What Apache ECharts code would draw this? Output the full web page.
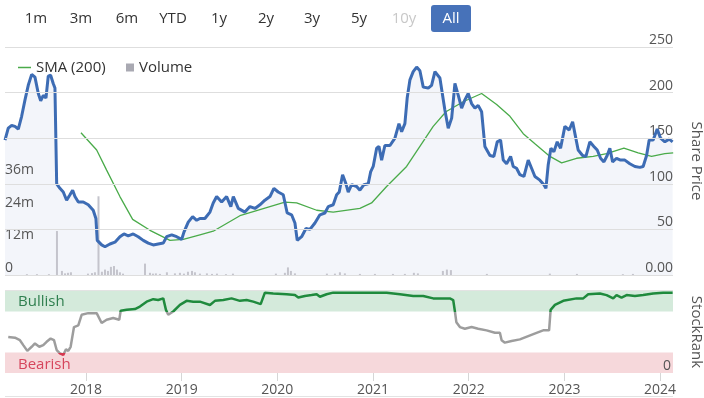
<!DOCTYPE html>
<html>
<head>
<meta charset="utf-8">
<script src="https://cdn.jsdelivr.net/npm/echarts@6/dist/echarts.min.js"></script>
<style>
  html, body { margin: 0; padding: 0; background: #fff; }
  #main { width: 704px; height: 398px; }
</style>
</head>
<body>
<div id="main"></div>
<script>
// dates are decimal years (2018.5 = middle of 2018)
var startYear = 2017.154, endYear = 2024.135;
var yearTicks = [2018, 2019, 2020, 2021, 2022, 2023, 2024];
var priceTicks = [0, 50, 100, 150, 200, 250];
var volumeTicks = [0, 12, 24, 36]; // millions
var rangeButtons = ['1m', '3m', '6m', 'YTD', '1y', '2y', '3y', '5y', '10y', 'All'];

var priceT = [2017.154,2017.188,2017.224,2017.258,2017.293,2017.328,2017.363,2017.397,2017.433,2017.467,
  2017.502,2017.527,2017.554,2017.582,2017.606,2017.631,2017.658,2017.676,2017.694,2017.728,
  2017.763,2017.798,2017.833,2017.861,2017.885,2017.920,2017.972,2018.024,2018.076,2018.104,
  2018.118,2018.164,2018.199,2018.251,2018.303,2018.355,2018.397,2018.442,2018.494,2018.546,
  2018.599,2018.651,2018.703,2018.755,2018.808,2018.843,2018.896,2018.948,2019.000,2019.024,
  2019.069,2019.115,2019.157,2019.191,2019.243,2019.296,2019.330,2019.366,2019.418,2019.470,
  2019.514,2019.540,2019.592,2019.661,2019.714,2019.766,2019.818,2019.870,2019.923,2019.964,
  2020.009,2020.062,2020.103,2020.149,2020.184,2020.208,2020.254,2020.299,2020.341,2020.393,
  2020.445,2020.497,2020.532,2020.584,2020.620,2020.647,2020.682,2020.717,2020.741,2020.776,
  2020.829,2020.863,2020.905,2020.950,2020.975,2021.002,2021.038,2021.062,2021.090,2021.124,
  2021.177,2021.229,2021.271,2021.299,2021.333,2021.357,2021.386,2021.420,2021.456,2021.490,
  2021.525,2021.577,2021.612,2021.647,2021.699,2021.751,2021.786,2021.822,2021.856,2021.891,
  2021.926,2021.960,2021.995,2022.030,2022.065,2022.099,2022.135,2022.169,2022.222,2022.263,
  2022.298,2022.333,2022.361,2022.396,2022.438,2022.465,2022.500,2022.535,2022.577,2022.622,
  2022.657,2022.692,2022.744,2022.786,2022.807,2022.831,2022.859,2022.890,2022.925,2022.960,
  2023.005,2023.050,2023.086,2023.110,2023.144,2023.190,2023.225,2023.266,2023.308,2023.343,
  2023.378,2023.413,2023.447,2023.475,2023.504,2023.545,2023.587,2023.632,2023.684,2023.737,
  2023.789,2023.823,2023.859,2023.886,2023.928,2023.970,2024.005,2024.050,2024.095,2024.131];
var priceV = [148,161,164,163,160,174,192,208,220,217,
  199,191,197,194,218,219,210,205,100,95,
  91,82,88,93,86,80,80,77,71,62,
  38,33,31,34,36,42,45,43,45,42,
  38,35,33,34,35,42,44,42,39,47,
  58,64,60,62,62,69,79,86,80,86,
  75,86,73,69,75,73,77,82,86,95,
  91,88,68,66,57,38,42,51,50,57,
  66,68,75,77,88,91,110,100,91,99,
  97,93,99,100,113,119,139,141,126,142,
  142,150,166,157,166,194,214,223,228,224,
  206,205,208,223,216,181,161,172,210,197,
  183,192,199,188,183,186,179,141,131,130,
  146,148,126,122,130,119,117,110,108,126,
  117,108,104,99,95,121,139,135,146,139,
  163,159,168,155,137,131,130,146,141,137,
  128,124,131,139,124,128,126,126,122,119,
  118,119,131,148,148,160,150,146,149,146];

var smaT = [2017.948,2018.112,2018.216,2018.355,2018.488,2018.669,2018.878,2019.017,2019.191,2019.330,
  2019.609,2020.079,2020.202,2020.411,2020.584,2020.863,2020.985,2021.142,2021.351,2021.490,
  2021.629,2021.762,2021.942,2022.135,2022.292,2022.431,2022.570,2022.692,2022.849,2022.971,
  2023.127,2023.301,2023.441,2023.622,2023.771,2023.911,2024.050,2024.137];
var smaV = [156,137,115,86,61,49,38,39,44,48,
  65,80,79,71,69,73,79,97,119,141,
  163,179,190,199,187,174,155,144,130,123,
  128,130,133,139,134,130,133,134];

var volT = [2017.383,2017.488,2017.613,2017.697,2017.749,2017.781,2017.812,2017.843,2018.021,2018.063,
  2018.094,2018.131,2018.167,2018.199,2018.230,2018.261,2018.293,2018.324,2018.355,2018.387,
  2018.617,2018.669,2018.700,2018.731,2018.773,2018.846,2018.930,2018.982,2019.024,2019.066,
  2019.108,2019.139,2019.191,2019.264,2019.317,2019.369,2019.463,2019.536,2019.985,2020.079,
  2020.111,2020.142,2020.184,2020.518,2020.602,2020.654,2020.706,2020.863,2021.020,2021.208,
  2021.333,2021.427,2021.469,2021.730,2021.772,2021.814,2022.190,2022.848,2023.131,2023.611,
  2023.716];
var volV = [0.3,0.3,0.3,16.2,1.5,0.6,0.8,1.0,0.5,0.7,
  1.0,29,1.2,2.0,1.5,3.0,3.3,2.0,1.0,0.5,
  4.2,0.8,0.5,0.6,0.4,1.0,0.6,0.8,0.5,1.2,
  1.5,1.0,0.5,0.6,0.4,0.5,0.3,0.5,0.5,0.8,
  2.8,1.5,0.6,0.5,0.5,1.0,0.6,0.4,0.4,0.4,
  0.4,0.8,0.6,1.5,2.0,1.8,0.4,0.5,0.4,0.3,
  0.4]; // millions

var rankT = [2017.188,2017.258,2017.310,2017.345,2017.387,2017.433,2017.467,2017.512,2017.554,2017.589,
  2017.631,2017.666,2017.694,2017.728,2017.763,2017.791,2017.815,2017.840,2017.875,2017.920,
  2017.955,2018.024,2018.112,2018.164,2018.216,2018.285,2018.348,2018.363,2018.425,2018.512,
  2018.564,2018.634,2018.703,2018.755,2018.808,2018.836,2018.860,2018.912,2018.982,2019.052,
  2019.121,2019.191,2019.296,2019.348,2019.435,2019.522,2019.609,2019.679,2019.748,2019.826,
  2019.870,2019.957,2020.097,2020.184,2020.219,2020.288,2020.358,2020.411,2020.445,2020.515,
  2020.584,2020.793,2021.142,2021.281,2021.420,2021.525,2021.629,2021.734,2021.803,2021.838,
  2021.856,2021.871,2021.908,2021.960,2022.030,2022.099,2022.187,2022.274,2022.326,2022.344,
  2022.378,2022.448,2022.535,2022.622,2022.709,2022.778,2022.840,2022.856,2022.901,2022.988,
  2023.127,2023.197,2023.249,2023.371,2023.441,2023.510,2023.545,2023.597,2023.650,2023.737,
  2023.823,2023.928,2024.032,2024.131];
var rankV = [44,43,40,34,27,32,36,32,34,38,
  42,40,28,24,22,29,27,32,56,58,
  71,73,73,61,65,67,65,76,77,78,
  81,87,90,89,91,77,71,75,83,88,
  87,87,83,88,89,91,88,89,87,84,
  98,97,96,95,92,94,95,96,93,96,
  98,98,98,96,94,94,91,91,91,89,
  75,62,56,54,56,54,52,49,49,40,
  37,39,41,45,49,52,52,77,83,88,
  91,91,96,97,95,91,95,92,95,94,
  95,97,98,98];

var bearishBand = [0, 25], bullishBand = [75, 100];

function pairs(ts, vs) {
  return ts.map(function (t, i) { return [t, vs[i]]; });
}

var font = '"Open Sans", "Noto Sans", sans-serif';

// range selector buttons (drawn, not interactive)
var btnX = [36, 81, 127, 173, 219, 266, 312, 359, 404, 451];
var graphics = [
  { type: 'rect', shape: { x: 431, y: 5, width: 40, height: 27, r: 3 }, style: { fill: '#4772b9' } },
  { type: 'rect', shape: { x: 5, y: 290, width: 668, height: 1 }, style: { fill: '#e3e3e3' } },
  { type: 'rect', shape: { x: 5, y: 396, width: 668, height: 1 }, style: { fill: '#e3e3e3' } }
];
rangeButtons.forEach(function (b, i) {
  graphics.push({
    type: 'text', x: btnX[i], y: 19,
    style: {
      text: b, font: '15px ' + font, align: 'center', verticalAlign: 'middle',
      fill: b === 'All' ? '#fff' : (b === '10y' ? '#c8c8c8' : '#333')
    }
  });
});

var myChart = echarts.init(document.getElementById('main'));
var option = {
  animation: false,
  textStyle: { fontFamily: font },
  graphic: graphics,
  legend: [
    { data: [{ name: 'SMA (200)', icon: 'rect', itemStyle: { color: '#4aab4a' } }], left: 13, top: 55,
      itemWidth: 13, itemHeight: 1.5, textStyle: { fontSize: 15, color: '#333' } },
    { data: [{ name: 'Volume', icon: 'rect', itemStyle: { color: '#a9a9b2' } }], left: 121, top: 55,
      itemWidth: 8, itemHeight: 8, textStyle: { fontSize: 15, color: '#333' } }
  ],
  visualMap: {
    show: false, type: 'piecewise', seriesIndex: 4, dimension: 1,
    pieces: [
      { lt: bearishBand[1], color: '#d5374f' },
      { gte: bearishBand[1], lt: bullishBand[0], color: '#9d9d9d' },
      { gte: bullishBand[0], color: '#1f8a3d' }
    ]
  },
  grid: [
    { left: 5, right: 31, top: 47, height: 228, outerBoundsMode: 'none' },
    { left: 5, right: 31, top: 291, height: 82, outerBoundsMode: 'none' }
  ],
  xAxis: [
    { type: 'value', gridIndex: 0, min: startYear, max: endYear, show: false },
    { type: 'value', gridIndex: 1, min: startYear, max: endYear,
      axisLine: { show: false },
      axisTick: { show: true, length: 8, customValues: yearTicks, lineStyle: { color: '#d6d6d6' } },
      axisLabel: { customValues: yearTicks, color: '#555', fontSize: 14, margin: 10,
        formatter: function (v) { return String(v); } },
      splitLine: { show: false } }
  ],
  yAxis: [
    { type: 'value', gridIndex: 0, position: 'right', min: 0, max: 250, interval: 50, z: 1.5,
      name: 'Share Price', nameLocation: 'middle', nameRotate: -90, nameGap: 16,
      nameTextStyle: { fontSize: 15, color: '#555' },
      axisLine: { show: false }, axisTick: { show: false },
      axisLabel: { inside: true, verticalAlign: 'bottom', color: '#555', fontSize: 14, margin: 0,
        formatter: function (v) { return v === 0 ? '0.00' : String(v); } },
      splitLine: { show: true, lineStyle: { color: '#dedede', width: 1 } } },
    { type: 'value', gridIndex: 0, position: 'left', min: 0, max: 84, interval: 12, z: 1.5,
      axisLine: { show: false }, axisTick: { show: false }, splitLine: { show: false },
      axisLabel: { inside: true, verticalAlign: 'bottom', color: '#555', fontSize: 14, margin: 0,
        customValues: volumeTicks,
        formatter: function (v) { return v === 0 ? '0' : v + 'm'; } } },
    { type: 'value', gridIndex: 1, position: 'right', min: 0, max: 100, interval: 100, z: 1.5,
      name: 'StockRank', nameLocation: 'middle', nameRotate: -90, nameGap: 16,
      nameTextStyle: { fontSize: 15, color: '#555' },
      axisLine: { show: false }, axisTick: { show: false }, splitLine: { show: false },
      axisLabel: { inside: true, verticalAlign: 'bottom', color: '#555', fontSize: 14, margin: 2,
        customValues: [0], formatter: function (v) { return v === 0 ? '0' : ''; } } }
  ],
  series: [
    { name: 'PriceArea', type: 'line', xAxisIndex: 0, yAxisIndex: 0, z: 1,
      data: pairs(priceT, priceV), symbol: 'none', silent: true,
      lineStyle: { width: 0 }, areaStyle: { color: '#f3f5fa', opacity: 1 },
      markLine: {
        silent: true, symbol: 'none', label: { show: false },
        lineStyle: { color: '#dedede', width: 1, type: 'solid' },
        data: priceTicks.map(function (v) { return { yAxis: v }; })
      } },
    { name: 'Volume', type: 'bar', xAxisIndex: 0, yAxisIndex: 1, z: 2,
      data: pairs(volT, volV), barWidth: 2, itemStyle: { color: '#c4c4cc' } },
    { name: 'SMA (200)', type: 'line', xAxisIndex: 0, yAxisIndex: 0, z: 3,
      data: pairs(smaT, smaV), symbol: 'none',
      lineStyle: { color: '#4aab4a', width: 1.3 }, itemStyle: { color: '#4aab4a' } },
    { name: 'Price', type: 'line', xAxisIndex: 0, yAxisIndex: 0, z: 4,
      data: pairs(priceT, priceV), symbol: 'none',
      lineStyle: { color: '#3d6cb4', width: 3 } },
    { name: 'StockRank', type: 'line', xAxisIndex: 1, yAxisIndex: 2, z: 3,
      data: pairs(rankT, rankV), symbol: 'none', lineStyle: { width: 2.5 },
      markArea: {
        silent: true,
        label: { position: 'insideLeft', distance: 13, fontSize: 15 },
        data: [
          [{ yAxis: bullishBand[0], name: 'Bullish', itemStyle: { color: '#d4eadb' }, label: { color: '#2f7f4f' } },
           { yAxis: bullishBand[1] }],
          [{ yAxis: bearishBand[0], name: 'Bearish', itemStyle: { color: '#f6d8db' }, label: { color: '#d6455c', offset: [0, 2] } },
           { yAxis: bearishBand[1] }]
        ]
      } }
  ]
};
myChart.setOption(option);
</script>
</body>
</html>
